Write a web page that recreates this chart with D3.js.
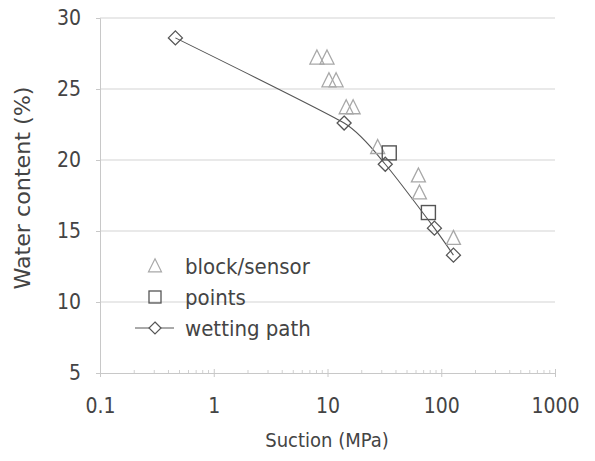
<!DOCTYPE html>
<html><head><meta charset="utf-8">
<script src="https://cdn.jsdelivr.net/npm/d3@7"></script>
<style>body{margin:0;background:#fff}svg{display:block}text{font-family:"DejaVu Sans Condensed","DejaVu Sans",sans-serif;fill:#444}</style>
</head><body>
<script>
// Data
const wettingSuction = [0.46, 14.0, 32.2, 87.1, 128];
const wettingWater   = [28.6, 22.6, 19.7, 15.2, 13.3];
const pointsSuction  = [34.9, 77.1];
const pointsWater    = [20.5, 16.3];
const blockSuction   = [8.07, 9.9, 10.3, 11.9, 14.6, 16.8, 27.6, 63, 64.3, 128];
const blockWater     = [27.2, 27.2, 25.6, 25.6, 23.7, 23.7, 20.9, 18.9, 17.7, 14.5];
const xTicks = [0.1, 1, 10, 100, 1000];
const xTickLabels = ["0.1", "1", "10", "100", "1000"];
const yTicks = [5, 10, 15, 20, 25, 30];
const legendLabels = ["block/sensor", "points", "wetting path"];

const W = 595, H = 461;
const FS = 21;
const svg = d3.select("body").append("svg").attr("width", W).attr("height", H);
const x = d3.scaleLog().domain([0.1, 1000]).range([100, 555]);
const y = d3.scaleLinear().domain([5, 30]).range([373, 18]);

// gridlines
svg.append("g").selectAll("line").data(yTicks.filter(d => d > 5)).join("line")
  .attr("x1", x(0.1)).attr("x2", x(1000)).attr("y1", d => y(d)).attr("y2", d => y(d))
  .attr("stroke", "#d4d4d4").attr("stroke-width", 1.2);

// y axis
const yAxis = d3.axisLeft(y).tickValues(yTicks).tickSize(4).tickPadding(15);
const gy = svg.append("g").attr("transform", `translate(${x(0.1)},0)`).call(yAxis);
gy.select(".domain").attr("stroke", "#c8c8c8");
gy.selectAll(".tick line").attr("stroke", "#c8c8c8");
gy.selectAll("text").attr("font-size", FS).attr("fill", "#444").style("font-family", '"DejaVu Sans Condensed"');

// x axis
const minor = [];
for (let e = -1; e < 3; e++) for (let k = 2; k <= 9; k++) minor.push(k * Math.pow(10, e));
const xAxis = d3.axisBottom(x).tickValues(xTicks).tickFormat((d, i) => xTickLabels[i]).tickSize(4).tickPadding(21);
const gx = svg.append("g").attr("transform", `translate(0,${y(5)})`).call(xAxis);
gx.select(".domain").attr("stroke", "#c8c8c8");
gx.selectAll(".tick line").attr("stroke", "#c8c8c8").attr("y1", -4);
gx.selectAll("text").attr("font-size", FS).attr("fill", "#444").style("font-family", '"DejaVu Sans Condensed"');
gx.append("g").selectAll("line").data(minor).join("line")
  .attr("x1", d => x(d)).attr("x2", d => x(d)).attr("y1", -3).attr("y2", 0)
  .attr("stroke", "#d0d0d0");

// axis titles
svg.append("text").attr("x", 327).attr("y", 447).attr("text-anchor", "middle")
  .attr("font-size", 20).text("Suction (MPa)");
svg.append("text").attr("transform", "translate(30,188) rotate(-90)").attr("text-anchor", "middle")
  .attr("font-size", 22).attr("textLength", 203).attr("lengthAdjust", "spacingAndGlyphs")
  .text("Water content (%)");

// wetting path line
const wet = wettingSuction.map((s, i) => [s, wettingWater[i]]);
const line = d3.line().x(d => x(d[0])).y(d => y(d[1])).curve(d3.curveCardinal.tension(0.5));
svg.append("path").datum(wet).attr("d", line).attr("fill", "none").attr("stroke", "#555").attr("stroke-width", 1.1);

const triPath = s => `M0,${-s*0.55}L${s*0.5},${s*0.45}L${-s*0.5},${s*0.45}Z`;
const diaPath = s => `M0,${-s/2}L${s/2},0L0,${s/2}L${-s/2},0Z`;

// block/sensor triangles
svg.append("g").selectAll("path").data(blockSuction.map((s, i) => [s, blockWater[i]])).join("path")
  .attr("transform", d => `translate(${x(d[0])},${y(d[1])})`)
  .attr("d", triPath(14)).attr("fill", "none").attr("stroke", "#a8a8a8").attr("stroke-width", 1.3);

// points squares
svg.append("g").selectAll("rect").data(pointsSuction.map((s, i) => [s, pointsWater[i]])).join("rect")
  .attr("x", d => x(d[0]) - 7).attr("y", d => y(d[1]) - 7).attr("width", 14).attr("height", 14)
  .attr("fill", "none").attr("stroke", "#555").attr("stroke-width", 1.4);

// diamonds
svg.append("g").selectAll("path").data(wet).join("path")
  .attr("transform", d => `translate(${x(d[0])},${y(d[1])})`)
  .attr("d", diaPath(14)).attr("fill", "none").attr("stroke", "#555").attr("stroke-width", 1.3);

// legend
const lg = svg.append("g");
const ly = [266, 297, 328];
lg.append("path").attr("transform", `translate(155,${ly[0]})`).attr("d", triPath(13))
  .attr("fill", "none").attr("stroke", "#a8a8a8").attr("stroke-width", 1.2);
lg.append("rect").attr("x", 149).attr("y", ly[1] - 6).attr("width", 12).attr("height", 12)
  .attr("fill", "none").attr("stroke", "#555").attr("stroke-width", 1.3);
lg.append("line").attr("x1", 135).attr("x2", 174).attr("y1", ly[2]).attr("y2", ly[2]).attr("stroke", "#555");
lg.append("path").attr("transform", `translate(155,${ly[2]})`).attr("d", diaPath(12))
  .attr("fill", "#fff").attr("stroke", "#555").attr("stroke-width", 1.2);
lg.selectAll("text.l").data(legendLabels).join("text").attr("class", "l")
  .attr("x", 185).attr("y", (d, i) => ly[i]).attr("dy", "0.35em").attr("font-size", 22).text(d => d);
</script>
</body></html>
